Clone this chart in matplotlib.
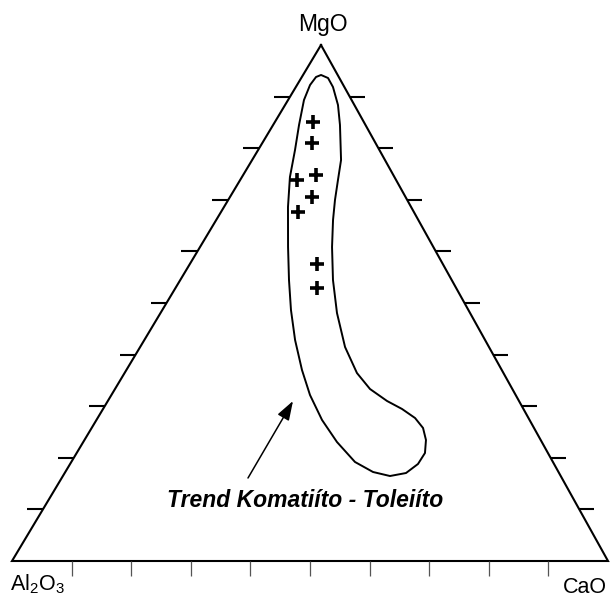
import matplotlib
matplotlib.use("Agg")
import matplotlib.pyplot as plt
import numpy as np

plt.rcParams['font.family'] = ['Liberation Sans', 'DejaVu Sans']
plt.rcParams['mathtext.fontset'] = 'custom'
plt.rcParams['mathtext.rm'] = 'Liberation Sans'
plt.rcParams['mathtext.it'] = 'Liberation Sans:italic'
plt.rcParams['mathtext.bf'] = 'Liberation Sans:bold'

# ---------------- data (ternary compositions, %) ----------------
apex_labels = ["MgO", "Al$_2$O$_3$", "CaO"]
tick_values = [10, 20, 30, 40, 50, 60, 70, 80, 90]

# samples: MgO, CaO  (Al2O3 = 100 - MgO - CaO)
sample_mgo = [85.0, 81.0, 74.8, 73.8, 70.6, 67.6, 57.6, 53.0]
sample_cao = [6.4, 8.4, 12.2, 9.6, 13.7, 13.0, 21.3, 23.7]

# Komatiite - tholeiite trend field outline
field_mgo = [94.19, 93.60, 91.86, 88.37, 84.50, 77.71, 73.84, 69.96, 66.09, 60.85,
             54.46, 48.06, 41.47, 36.43, 33.33, 31.01, 29.46, 27.71, 25.78, 23.45,
             20.93, 18.80, 17.05, 16.47, 17.25, 19.19, 23.06, 27.33, 32.17, 37.02,
             42.83, 48.64, 54.46, 60.85, 68.60, 74.42, 79.65, 84.50, 89.34, 92.25,
             93.80]
field_cao = [3.02, 4.50, 6.23, 8.88, 11.22, 14.92, 16.41, 17.92, 19.60, 22.15,
             25.62, 29.61, 34.38, 38.99, 42.79, 46.85, 50.17, 53.26, 55.60, 57.30,
             58.44, 58.37, 57.27, 54.88, 51.63, 47.60, 42.57, 37.85, 33.32, 29.46,
             25.29, 21.59, 18.24, 14.77, 10.74, 8.05, 6.19, 4.35, 2.67, 2.18,
             2.38]

trend_label = "Trend Komatiíto - Toleiíto"

# ---------------- layout ----------------
W, H = 611, 598
A = np.array([12.0, 561.0])   # Al2O3 vertex (pixels)
M = np.array([321.0, 45.0])   # MgO vertex
C = np.array([608.0, 561.0])  # CaO vertex


def tern(mgo, cao):
    mgo = np.asarray(mgo, float) / 100.0
    cao = np.asarray(cao, float) / 100.0
    al = 1.0 - mgo - cao
    x = al * A[0] + mgo * M[0] + cao * C[0]
    y = al * A[1] + mgo * M[1] + cao * C[1]
    return x, y


fig = plt.figure(figsize=(W / 100, H / 100), dpi=100)
ax = fig.add_axes([0, 0, 1, 1])
ax.set_xlim(0, W)
ax.set_ylim(H, 0)
ax.axis('off')

# triangle
tx, ty = tern([100, 0, 0, 100], [0, 0, 100, 0])
ax.plot(tx, ty, color='black', lw=1.5, solid_joinstyle='miter')

# ticks
tv = np.array(tick_values, float)
# left side (Al2O3 - MgO), horizontal ticks outward to the left
lx, ly = tern(tv, np.zeros_like(tv))
for x, y in zip(lx, ly):
    ax.plot([x - 16, x], [y, y], color='black', lw=1.5, solid_capstyle='butt')
# right side (MgO - CaO), horizontal ticks outward to the right
rx, ry = tern(tv, 100 - tv)
for x, y in zip(rx, ry):
    ax.plot([x, x + 15], [y, y], color='black', lw=1.5, solid_capstyle='butt')
# bottom (Al2O3 - CaO), thin grey ticks downward
bx, by = tern(np.zeros_like(tv), tv)
for x, y in zip(bx, by):
    ax.plot([x, x], [y, y + 15], color='#555555', lw=0.9, solid_capstyle='butt')

# field outline
fx, fy = tern(field_mgo, field_cao)
ax.fill(fx, fy, facecolor='none', edgecolor='black', lw=1.4, joinstyle='round')

# samples
sx, sy = tern(sample_mgo, sample_cao)
ax.plot(sx, sy, linestyle='none', marker='+', markersize=10,
        markeredgewidth=2.6, color='black')

# labels
ax.text(323, 31, apex_labels[0], fontsize=16.5, ha='center', va='baseline')
ax.text(10, 590, apex_labels[1], fontsize=15.5, ha='left', va='baseline')
ax.text(607, 593, apex_labels[2], fontsize=15.5, ha='right', va='baseline')

# trend annotation
ax.text(305, 507, trend_label, fontsize=16.5, fontweight='bold',
        fontstyle='italic', ha='center', va='baseline')
ax.annotate('', xy=(293, 401), xytext=(248, 478),
            arrowprops=dict(arrowstyle='-|>,head_length=0.65,head_width=0.22',
                            mutation_scale=18, color='black', lw=1.1,
                            shrinkA=0, shrinkB=0))

fig.savefig('out.png', dpi=100)
